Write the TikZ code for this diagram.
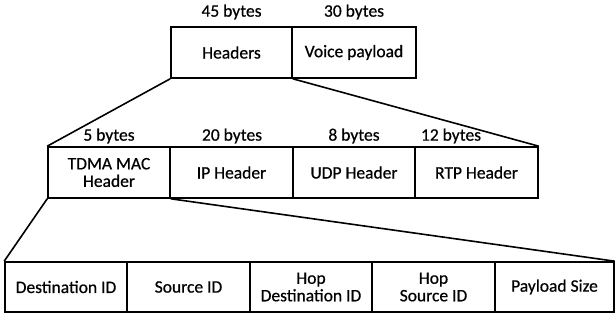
\documentclass[tikz,border=0pt]{standalone}
\usepackage{fontspec}
\setmainfont{Carlito}[FakeBold=0.6]
\newfontfamily\fieldfont{Carlito}[AutoFakeBold=0.6]
\begin{document}
\begin{tikzpicture}[x=1pt, y=-1pt,
  fld/.style={draw, line width=1.6pt, inner sep=0pt, align=center,
    font=\fieldfont\bfseries\fontsize{17.5}{17.5}\selectfont},
  size/.style={inner sep=0pt, font=\fieldfont\bfseries\fontsize{17.5}{17.5}\selectfont},
  zoomline/.style={line width=1.6pt}]
\useasboundingbox (0,0) rectangle (615,320);

% packet: headers + payload
\node[fld, minimum width=121pt, minimum height=51pt] (hdr) at (231.5,52.5) {Headers};
\node[fld, minimum width=124pt, minimum height=51pt] (voice) at (354,52.5) {Voice payload};
\node[size] (s45) at (231.5,12) {45 bytes};
\node[size] (s30) at (354,12) {30 bytes};

% header breakdown
\node[fld, minimum width=122pt, minimum height=51pt] (mac) at (109,172.5) {TDMA MAC\\Header};
\node[fld, minimum width=123pt, minimum height=51pt] (ip) at (231.5,172.5) {IP Header};
\node[fld, minimum width=122pt, minimum height=51pt] (udp) at (354,172.5) {UDP Header};
\node[fld, minimum width=123pt, minimum height=51pt] (rtp) at (476.5,172.5) {RTP Header};
\node[size] (s5) at (109,136) {5 bytes};
\node[size] (s20) at (232,136) {20 bytes};
\node[size] (s8) at (354,136) {8 bytes};
\node[size] (s12) at (451,136) {12 bytes};

% TDMA MAC header fields
\node[fld, minimum width=122pt, minimum height=50pt] (dst) at (66,287) {Destination ID};
\node[fld, minimum width=123pt, minimum height=50pt] (src) at (188.5,287) {Source ID};
\node[fld, minimum width=122pt, minimum height=50pt] (hdst) at (311,287) {Hop\\Destination ID};
\node[fld, minimum width=123pt, minimum height=50pt] (hsrc) at (433.5,287) {Hop\\Source ID};
\node[fld, minimum width=119pt, minimum height=50pt] (psize) at (554.5,287) {Payload Size};

% expansion lines
\draw[zoomline] (hdr.south west) -- (mac.north west);
\draw[zoomline] (hdr.south east) -- (rtp.north east);
\draw[zoomline] (mac.south west) -- (dst.north west);
\draw[zoomline] (mac.south east) -- (psize.north east);
\end{tikzpicture}
\end{document}
